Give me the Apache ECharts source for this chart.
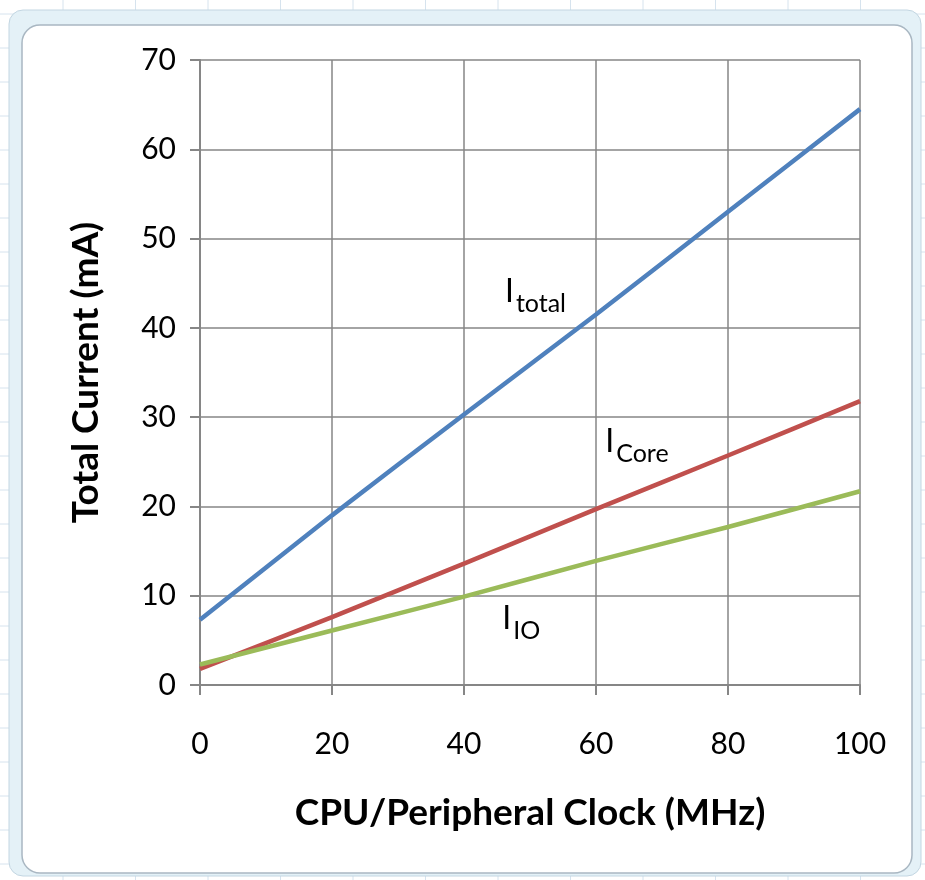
<!DOCTYPE html>
<html>
<head>
<meta charset="utf-8">
<title>Total Current vs Clock</title>
<script src="https://cdn.jsdelivr.net/npm/echarts@6/dist/echarts.min.js"></script>
<style>
  html, body { margin: 0; padding: 0; background: #fff; }
  #chart { width: 925px; height: 880px; }
</style>
</head>
<body>
<div id="chart"></div>
<script>
// clock in MHz
var clockMHz = [0, 20, 40, 60, 80, 100];
// currents in mA
var iTotal = [7.3, 19.0, 30.3, 41.5, 53.0, 64.5];
var iCore = [1.8, 7.6, 13.6, 19.7, 25.7, 31.8];
var iIO = [2.3, 6.1, 9.9, 13.9, 17.7, 21.7];

// line labels: [main, subscript, x, y] in data units
var lineLabels = [
  ["I", "total", 46.2, 43.6],
  ["I", "Core", 61.4, 26.8],
  ["I", "IO", 45.8, 6.9]
];

var chart = echarts.init(document.getElementById("chart"));
var font = "Lato, 'Open Sans', sans-serif";

function pairs(ys) {
  return clockMHz.map(function (x, i) { return [x, ys[i]]; });
}

// spreadsheet background lines (decoration only)
var sheet = [];
for (var cx = 63; cx < 925; cx += 72.5) {
  sheet.push({ type: "line", shape: { x1: cx, y1: 0, x2: cx, y2: 880 },
    style: { stroke: "#d6e3ee", lineWidth: 1 }, z: -10 });
}
for (var cy = 14; cy < 880; cy += 34) {
  sheet.push({ type: "line", shape: { x1: 0, y1: cy, x2: 925, y2: cy },
    style: { stroke: "#d6e3ee", lineWidth: 1 }, z: -10 });
}
sheet.push({ type: "rect", shape: { x: 9, y: 10, width: 912, height: 866, r: 14 },
  style: { fill: "#e4f1f7", stroke: "#c3d6e2", lineWidth: 1 }, z: -9 });
sheet.push({ type: "rect", shape: { x: 22, y: 25, width: 890, height: 848, r: 18 },
  style: { fill: "#ffffff", stroke: "#a9b7c2", lineWidth: 1.5 }, z: -8 });

var option = {
  backgroundColor: "#ffffff",
  animation: false,
  grid: { left: 200, right: 65, top: 60, bottom: 195 },
  xAxis: {
    type: "value",
    min: 0, max: 100, interval: 20,
    name: "CPU/Peripheral Clock (MHz)",
    nameLocation: "middle",
    nameGap: 110,
    nameTextStyle: { fontFamily: font, fontSize: 37, fontWeight: "bold", color: "#000" },
    axisLine: { show: true, lineStyle: { color: "#868686", width: 2 } },
    axisTick: { show: true, length: 10, lineStyle: { color: "#868686", width: 2 } },
    axisLabel: { fontFamily: font, fontSize: 30, color: "#000", margin: 44 },
    splitLine: { show: true, lineStyle: { color: "#868686", width: 1.5 } }
  },
  yAxis: {
    type: "value",
    min: 0, max: 70, interval: 10,
    name: "Total Current (mA)",
    nameLocation: "middle",
    nameGap: 95,
    nameTextStyle: { fontFamily: font, fontSize: 37, fontWeight: "bold", color: "#000" },
    axisLine: { show: true, lineStyle: { color: "#868686", width: 2 } },
    axisTick: { show: true, length: 10, lineStyle: { color: "#868686", width: 2 } },
    axisLabel: { fontFamily: font, fontSize: 30, color: "#000", margin: 24 },
    splitLine: { show: true, lineStyle: { color: "#868686", width: 1.5 } }
  },
  series: [
    { name: "Itotal", type: "line", data: pairs(iTotal), symbol: "none", smooth: 0.2,
      lineStyle: { color: "#4f81bd", width: 4.5 } },
    { name: "ICore", type: "line", data: pairs(iCore), symbol: "none", smooth: 0.2,
      lineStyle: { color: "#c0504d", width: 4.5 } },
    { name: "IIO", type: "line", data: pairs(iIO), symbol: "none", smooth: 0.2,
      lineStyle: { color: "#9bbb59", width: 4.5 } }
  ],
  graphic: sheet
};
chart.setOption(option);

// place the line labels through the axes
var texts = lineLabels.map(function (l) {
  var p = chart.convertToPixel({ gridIndex: 0 }, [l[2], l[3]]);
  return {
    type: "text", x: p[0], y: p[1], z: 10,
    style: {
      text: "{m|" + l[0] + "}{s|" + l[1] + "}",
      verticalAlign: "middle",
      rich: {
        m: { fontFamily: font, fontSize: 32, fill: "#000", verticalAlign: "top" },
        s: { fontFamily: font, fontSize: 25, fill: "#000", padding: [16, 0, 0, 2] }
      }
    }
  };
});
chart.setOption({ graphic: sheet.concat(texts) });
</script>
</body>
</html>
